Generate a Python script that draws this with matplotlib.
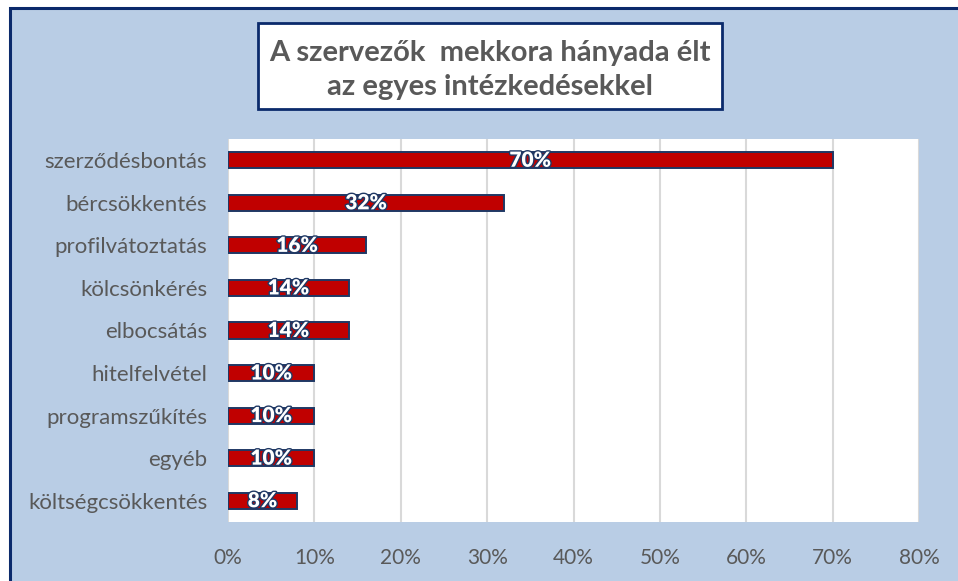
import matplotlib
matplotlib.use("Agg")
import matplotlib.pyplot as plt
from matplotlib.patches import Rectangle
import matplotlib.patheffects as pe

categories = ["szerződésbontás", "bércsökkentés", "profilvátoztatás", "kölcsönkérés",
              "elbocsátás", "hitelfelvétel", "programszűkítés", "egyéb", "költségcsökkentés"]
values = [70, 32, 16, 14, 14, 10, 10, 10, 8]
xticks = [0, 10, 20, 30, 40, 50, 60, 70, 80]
xtick_labels = [f"{t}%" for t in xticks]
title = "A szervezők  mekkora hányada élt\naz egyes intézkedésekkel"

plt.rcParams['font.family'] = ['Lato', 'DejaVu Sans']

W, H = 958, 581
fig = plt.figure(figsize=(W/100, H/100), dpi=100)
fig.patch.set_facecolor("white")

# outer border panel
fig.add_artist(Rectangle((10/W, -0.05), 1.0, 1 - 8/H + 0.05, transform=fig.transFigure,
                         facecolor="#B9CDE5", edgecolor="#0B2A6B", linewidth=2.2, zorder=0))

ax = fig.add_axes([228/W, 1 - 522/H, (919-228)/W, (522-139)/H])
ax.set_facecolor("white")
y = list(range(len(categories)))
bars = ax.barh(y, values, height=0.38, color="#C00000", edgecolor="#1F3864", linewidth=1.4, zorder=3)
ax.set_ylim(len(categories) - 0.5, -0.5)
ax.set_xlim(0, 80)
ax.set_xticks(xticks)
ax.set_xticklabels(xtick_labels)
ax.set_yticks(y)
ax.set_yticklabels(categories)
ax.grid(axis="x", color="#D9D9D9", linewidth=1.5, zorder=0)
for s in ax.spines.values():
    s.set_visible(False)
ax.tick_params(axis="both", length=0, labelcolor="#595959")
ax.tick_params(axis="x", pad=19, labelsize=15)
ax.tick_params(axis="y", pad=15, labelsize=16)

for yi, v in zip(y, values):
    ax.text(v / 2, yi, f"{v}%", ha="center", va="center", color="white", fontsize=15,
            fontweight="heavy", zorder=4,
            path_effects=[pe.withStroke(linewidth=2.0, foreground="#1F3864")])

# title box
fig.add_artist(Rectangle((258/W, 1 - 109/H), (722-258)/W, (109-23)/H, transform=fig.transFigure,
                         facecolor="white", edgecolor="#0B2A6B", linewidth=2, zorder=2))
fig.text(490/W, 1 - 70/H, title, ha="center", va="center", fontsize=21, fontweight="bold",
         color="#595959", linespacing=1.42, zorder=3)

fig.savefig("out.png", dpi=100)
